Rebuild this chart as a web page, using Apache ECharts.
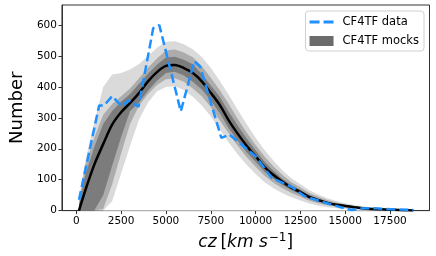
<!DOCTYPE html>
<html><head><meta charset="utf-8">
<script src="https://cdn.jsdelivr.net/npm/echarts@6/dist/echarts.min.js"></script>
<style>html,body{margin:0;padding:0;background:#fff}#c{width:436px;height:256px}</style>
</head><body><div id="c"></div>
<script>
const czGrid = [150,500,1000,1500,2000,2500,3000,3500,4000,4500,5000,5500,6000,6500,7000,7500,8000,8500,9000,9500,10000,10500,11000,11500,12000,12500,13000,13500,14000,14500,15000,15500,16000,16500,17000,17500,18000,18500,18800];
const mockMean = [0,65,148,215,278,318,348,380,418,448,468,471,461,445,418,381,342,292,249,210,176,141,115,93,74,60,44,34,25,19,15,11,7,5,4,3,2,1,0];
const inner1Up = [15,115,205,280,322,352,377,410,443,472,495,498,488,473,442,405,368,320,275,233,195,158,128,102,82,67,50,39,29,22,17,13,9,7,5,4,3,2,1];
const inner1Lo = [0,0,0,50,145,238,322,350,388,420,445,449,437,417,392,357,316,266,226,189,158,126,103,83,66,53,38,29,21,16,12,9,5,3,3,2,1,0,0];
const mid2Up = [25,145,235,310,345,370,395,428,462,492,518,521,511,496,468,430,390,345,297,253,212,175,143,115,92,75,57,45,34,26,20,15,11,8,6,5,4,2,1];
const mid2Lo = [0,0,0,5,85,185,280,340,377,406,425,428,417,395,370,335,292,250,210,173,142,113,90,72,57,45,32,24,17,13,9,6,4,2,2,1,0,0,0];
const outer3Up = [40,160,285,400,440,445,456,474,500,527,546,548,538,522,497,462,420,375,326,280,236,196,161,130,105,85,66,52,40,31,24,18,14,10,8,6,5,3,1];
const outer3Lo = [0,0,0,0,30,120,210,295,350,385,400,402,390,368,340,305,262,220,182,148,118,92,72,56,43,33,23,16,11,8,5,3,2,1,1,0,0,0,0];

const dataCz = [150,1275,1548,2000,2545,2910,3470,4290,4630,5830,6580,6905,8090,8540,9995,10900,12030,12720,13720,14810,15350,15900,16620,17530,18800];
const dataN  = [35,340,340,370,337,357,336,590,600,321,483,466,235,246,176,106,76,47,28,10,2,7,8,4,2];

const xTicks = [0,2500,5000,7500,10000,12500,15000,17500];
const yTicks = [0,100,200,300,400,500,600];

const pair = (xs, ys) => xs.map((x,i)=>[x, ys[i]]);
const areaSeries = (name, ys, color) => ({
  name, type:'line', data: pair(czGrid, ys), symbol:'none', silent:true,
  lineStyle:{width:0}, areaStyle:{color, opacity:1, origin:'start'}, z:1
});

const chart = echarts.init(document.getElementById('c'));
chart.setOption({
  animation:false,
  textStyle:{fontFamily:'DejaVu Sans'},
  grid:{left:53.5, right:6.5, top:5, bottom:44.5, show:true, borderColor:'#333', borderWidth:1, backgroundColor:'transparent'},
  legend:{
    top:11, right:12, orient:'vertical', itemWidth:24, itemHeight:10, itemGap:7,
    padding:[5,5,4,4], borderColor:'#d0d0d0', borderWidth:1, borderRadius:3, backgroundColor:'rgba(255,255,255,0.8)',
    textStyle:{fontSize:11.5, color:'#000', fontFamily:'DejaVu Sans', padding:[0,0,0,4]},
    data:[{name:'CF4TF data', icon:'path://M0,0h10v3h-10zM14,0h10v3h-10z', itemStyle:{color:'#1e90ff'}},
          {name:'CF4TF mocks', icon:'rect', itemStyle:{color:'#6b6b6b'}}]
  },
  xAxis:{type:'value', min:-800, max:19700,
    axisLine:{show:true, onZero:false, lineStyle:{color:'#333'}},
    axisTick:{show:true, length:3.5, lineStyle:{color:'#333'}, customValues:xTicks},
    axisLabel:{customValues:xTicks, fontSize:10.5, color:'#000', margin:5, formatter:v=>String(v)},
    splitLine:{show:false},
    name:'{i|cz} {n|[}{i|km s}{s|−1}{n|]}', nameLocation:'middle', nameGap:16,
    nameTextStyle:{rich:{
      i:{fontSize:17, fontStyle:'italic', fontFamily:'DejaVu Sans', color:'#000'},
      n:{fontSize:17, fontFamily:'DejaVu Sans', color:'#000'},
      s:{fontSize:12, fontFamily:'DejaVu Sans', color:'#000', verticalAlign:'bottom', padding:[0,0,10,1]}
    }}
  },
  yAxis:{type:'value', min:0, max:665,
    axisLine:{show:true, onZero:false, lineStyle:{color:'#333'}},
    axisTick:{show:true, length:3.5, lineStyle:{color:'#333'}, customValues:yTicks},
    axisLabel:{customValues:yTicks, fontSize:10.5, color:'#000', margin:5, formatter:v=>String(v)},
    splitLine:{show:false},
    name:'Number', nameLocation:'middle', nameGap:30,
    nameTextStyle:{fontSize:18, color:'#000', fontFamily:'DejaVu Sans'}
  },
  series:[
    areaSeries('o3u', outer3Up, '#dadada'),
    areaSeries('m2u', mid2Up, '#acacac'),
    areaSeries('i1u', inner1Up, '#7c7c7c'),
    areaSeries('i1l', inner1Lo, '#acacac'),
    areaSeries('m2l', mid2Lo, '#dadada'),
    areaSeries('o3l', outer3Lo, '#ffffff'),
    {name:'mean', type:'line', data:pair(czGrid, mockMean), symbol:'none', smooth:0.3, silent:true,
      lineStyle:{color:'#000', width:2.5}, z:3},
    {name:'CF4TF data', type:'line', data:pair(dataCz, dataN), symbol:'none', silent:true,
      color:'#1e90ff', lineStyle:{color:'#1e90ff', width:2.5, type:[9,4]}, z:4},
    {name:'CF4TF mocks', type:'line', data:[], symbol:'none', color:'#6b6b6b'}
  ]
});
</script></body></html>
